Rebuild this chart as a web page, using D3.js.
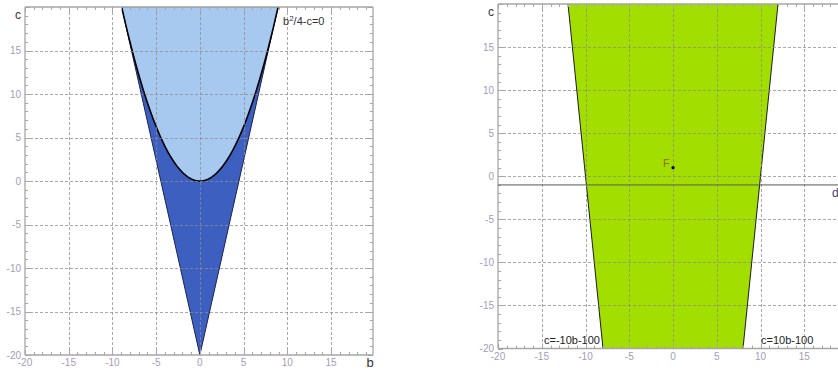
<!DOCTYPE html>
<html>
<head>
<meta charset="utf-8">
<script src="https://cdn.jsdelivr.net/npm/d3@7"></script>
<style>
  html, body { margin: 0; padding: 0; background: #fff; }
  svg { display: block; font-family: "Liberation Sans", Arial, sans-serif; }
</style>
</head>
<body>
<svg id="chart" width="838" height="370"></svg>
<script>
// Tick values shared by both panels
const majorTicks = [-20, -15, -10, -5, 0, 5, 10, 15];
const gridValues = [-15, -10, -5, 0, 5, 10, 15];
const minorTicks = d3.range(-20, 21, 1);

// Left panel: discriminant parabola b^2/4 - c = 0 and the cone under it
const parabolaLabel = "b²/4-c=0";
const coneB = [-8.94, 0, 8.94];
const coneC = [20, -20, 20];

// Right panel: boundary lines c = ±10b - 100, level d and point F
const lineSlopes = [-10, 10];
const lineIntercept = -100;
const lineLabels = ["c=-10b-100", "c=10b-100"];
const dLevel = -1;
const pointF = { b: 0, c: 1, name: "F" };

const svg = d3.select("#chart");
const tickColor = "#a39cbd";
const frameColor = "#a6a6a6";

function panel(opts) {
  const g = svg.append("g");
  const x = d3.scaleLinear().domain(opts.xDomain).range(opts.xRange);
  const y = d3.scaleLinear().domain([-20, 20]).range(opts.yRange);
  const clipId = opts.id + "-clip";
  const x0 = x.range()[0], x1 = x.range()[1];
  const y0 = y.range()[1], y1 = y.range()[0];
  g.append("clipPath").attr("id", clipId)
    .append("rect").attr("x", x0).attr("y", y0).attr("width", x1 - x0).attr("height", y1 - y0);
  const plot = g.append("g").attr("clip-path", `url(#${clipId})`);
  return { g, x, y, plot, x0, x1, y0, y1 };
}

function decorate(p, opts) {
  const { g, x, y, x0, x1, y0, y1 } = p;
  // dashed grid
  const grid = g.append("g").attr("stroke", "#8c8c8c").attr("stroke-opacity", 0.75)
    .attr("stroke-width", 1).attr("stroke-dasharray", "3,2");
  grid.selectAll(".gx").data(gridValues.filter(v => x(v) > x0 && x(v) < x1)).join("line")
    .attr("x1", d => Math.round(x(d)) + 0.5).attr("x2", d => Math.round(x(d)) + 0.5)
    .attr("y1", y0).attr("y2", y1);
  grid.selectAll(".gy").data(gridValues).join("line")
    .attr("y1", d => Math.round(y(d)) + 0.5).attr("y2", d => Math.round(y(d)) + 0.5)
    .attr("x1", x0).attr("x2", x1);

  // frame ticks (inward), minor every unit, major every 5
  const ticks = g.append("g").attr("stroke", frameColor).attr("stroke-width", 1);
  const len = d => (d % 5 === 0 ? 5 : 3);
  const xs = minorTicks.filter(v => x(v) >= x0 && x(v) <= x1);
  ticks.selectAll(".tb").data(xs).join("line")
    .attr("x1", d => Math.round(x(d)) + 0.5).attr("x2", d => Math.round(x(d)) + 0.5)
    .attr("y1", y1).attr("y2", d => y1 - len(d));
  ticks.selectAll(".tt").data(xs).join("line")
    .attr("x1", d => Math.round(x(d)) + 0.5).attr("x2", d => Math.round(x(d)) + 0.5)
    .attr("y1", y0).attr("y2", d => y0 + len(d));
  ticks.selectAll(".tl").data(minorTicks).join("line")
    .attr("y1", d => Math.round(y(d)) + 0.5).attr("y2", d => Math.round(y(d)) + 0.5)
    .attr("x1", x0).attr("x2", d => x0 + len(d));
  if (opts.rightFrame) {
    ticks.selectAll(".tr").data(minorTicks).join("line")
      .attr("y1", d => Math.round(y(d)) + 0.5).attr("y2", d => Math.round(y(d)) + 0.5)
      .attr("x1", x1).attr("x2", d => x1 - len(d));
  }

  // frame
  const fr = g.append("g").attr("stroke", frameColor).attr("stroke-width", 1.3).attr("fill", "none");
  fr.append("line").attr("x1", x0).attr("x2", x1).attr("y1", y1).attr("y2", y1);
  fr.append("line").attr("x1", x0).attr("x2", x1).attr("y1", y0).attr("y2", y0);
  fr.append("line").attr("x1", x0).attr("x2", x0).attr("y1", y0).attr("y2", y1);
  if (opts.rightFrame) fr.append("line").attr("x1", x1).attr("x2", x1).attr("y1", y0).attr("y2", y1);

  // tick labels
  const lbl = g.append("g").attr("fill", tickColor).attr("font-size", 10);
  lbl.selectAll(".lx").data(majorTicks).join("text")
    .attr("x", d => x(d)).attr("y", y1 + 11).attr("text-anchor", "middle").text(d => d);
  lbl.selectAll(".ly").data(majorTicks).join("text")
    .attr("x", x0 - 4).attr("y", d => y(d) + 3.5).attr("text-anchor", "end").text(d => d);

  // axis names
  g.append("text").attr("x", x0 - 7).attr("y", y0 + 12).attr("text-anchor", "middle")
    .attr("font-size", 12).attr("fill", "#333").text("c");
  if (opts.xName) {
    g.append("text").attr("x", opts.xName.x).attr("y", y1 + 12).attr("text-anchor", "middle")
      .attr("font-size", 13).attr("fill", "#333").text(opts.xName.text);
  }
}

// ---------- Left panel ----------
const L = panel({ id: "left", xDomain: [-20, 19.8], xRange: [25, 373], yRange: [355, 7] });
{
  const { x, y, plot } = L;
  const cone = coneB.map((b, i) => [x(b), y(coneC[i])]);
  plot.append("path")
    .attr("d", d3.line()(cone) + "Z")
    .attr("fill", "#3d5fc0")
    .attr("stroke", "#1a2550").attr("stroke-width", 1);

  const bEnds = d3.extent(coneB);
  const parab = d3.range(bEnds[0], bEnds[1] + 0.001, (bEnds[1] - bEnds[0]) / 200)
    .map(b => [x(b), y(b * b / 4)]);
  plot.append("path")
    .attr("d", d3.line()(parab) + "Z")
    .attr("fill", "#a8c9ef");
  plot.append("path")
    .attr("d", d3.line()(parab))
    .attr("fill", "none").attr("stroke", "#000").attr("stroke-width", 1.6);

  decorate(L, { rightFrame: true, xName: { x: 370, text: "b" } });

  L.g.append("text").attr("x", 283).attr("y", 25).attr("font-size", 11).attr("fill", "#333")
    .html('b<tspan dy="-4" font-size="8">2</tspan><tspan dy="4">/4-c=0</tspan>');
}

// ---------- Right panel ----------
const R = panel({ id: "right", xDomain: [-20, 20], xRange: [498, 848], yRange: [348.5, 4] });
{
  const { x, y, plot } = R;
  const bOn = (slope, c) => (c - lineIntercept) / slope;
  const region = [
    [x(bOn(lineSlopes[0], 20)), y(20)],
    [x(bOn(lineSlopes[1], 20)), y(20)],
    [x(bOn(lineSlopes[1], -20)), y(-20)],
    [x(bOn(lineSlopes[0], -20)), y(-20)]
  ];
  plot.append("path").attr("d", d3.line()(region) + "Z").attr("fill", "#a2df00");
  lineSlopes.forEach(s => {
    plot.append("line")
      .attr("x1", x(bOn(s, 20))).attr("y1", y(20))
      .attr("x2", x(bOn(s, -20))).attr("y2", y(-20))
      .attr("stroke", "#1b1b1b").attr("stroke-width", 1);
  });

  decorate(R, { rightFrame: false });

  // level line d
  R.g.append("line").attr("x1", R.x0).attr("x2", 838)
    .attr("y1", y(dLevel)).attr("y2", y(dLevel))
    .attr("stroke", "#5f5f5f").attr("stroke-opacity", 0.6).attr("stroke-width", 1.6);
  R.g.append("text").attr("x", 832).attr("y", y(dLevel) + 12).attr("font-size", 12)
    .attr("fill", "#44446a").text("d");

  // point F
  R.g.append("circle").attr("cx", x(pointF.b)).attr("cy", y(pointF.c)).attr("r", 1.6).attr("fill", "#000");
  R.g.append("text").attr("x", x(pointF.b) - 10).attr("y", y(pointF.c) - 1).attr("font-size", 11)
    .attr("fill", "#9a6a10").text(pointF.name);

  // line labels
  R.g.append("text").attr("x", 544).attr("y", 344).attr("font-size", 11).attr("fill", "#222").text(lineLabels[0]);
  R.g.append("text").attr("x", 761).attr("y", 344).attr("font-size", 11).attr("fill", "#222").text(lineLabels[1]);
}
</script>
</body>
</html>
